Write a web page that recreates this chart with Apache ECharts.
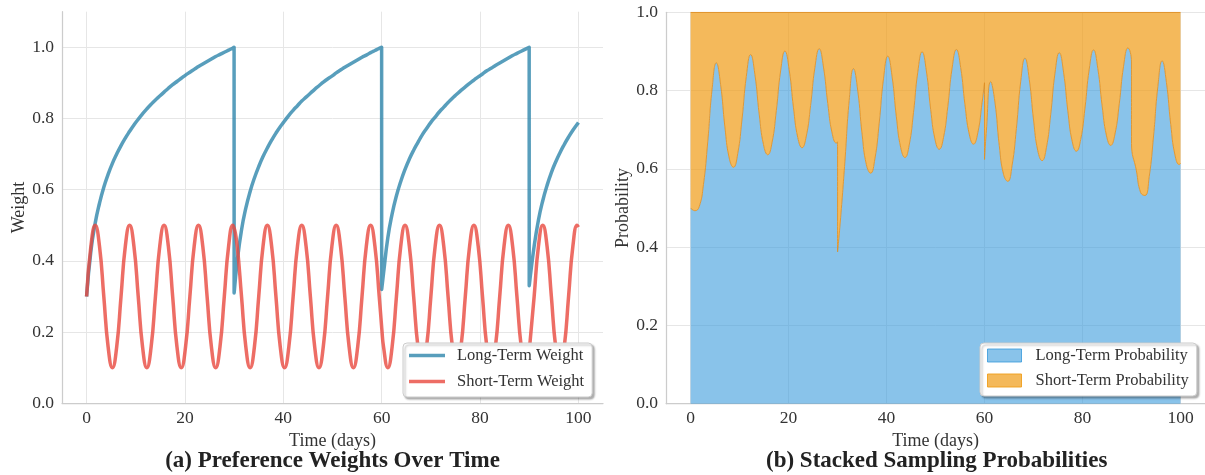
<!DOCTYPE html>
<html>
<head>
<meta charset="utf-8">
<script src="https://cdn.jsdelivr.net/npm/echarts@6/dist/echarts.min.js"></script>
<style>
html,body{margin:0;padding:0;background:#ffffff;}
#chart{width:1205px;height:475px;}
</style>
</head>
<body>
<div id="chart"></div>
<script>
// ---- data ----
const days = [
  0, 0.875, 1.75, 2.625, 3.5, 4.375, 5.25, 6.125, 7, 7.875, 8.75, 9.625, 10.5, 11.375, 12.25, 13.125,
  14, 14.875, 15.75, 16.625, 17.5, 18.375, 19.25, 20.125, 21, 21.875, 22.75, 23.625, 24.5, 25.375, 26.25,
  27.125, 28, 28.875, 29.75, 29.99, 30,
  30.625, 31.5, 32.375, 33.25, 34.125, 35, 35.875, 36.75, 37.625, 38.5, 39.375, 40.25, 41.125, 42, 42.875,
  43.75, 44.625, 45.5, 46.375, 47.25, 48.125, 49, 49.875, 50.75, 51.625, 52.5, 53.375, 54.25, 55.125, 56,
  56.875, 57.75, 58.625, 59.5, 59.99, 60,
  60.375, 61.25, 62.125, 63, 63.875, 64.75, 65.625, 66.5, 67.375, 68.25, 69.125, 70, 70.875, 71.75, 72.625,
  73.5, 74.375, 75.25, 76.125, 77, 77.875, 78.75, 79.625, 80.5, 81.375, 82.25, 83.125, 84, 84.875, 85.75,
  86.625, 87.5, 88.375, 89.25, 89.99, 90,
  91, 91.875, 92.75, 93.625, 94.5, 95.375, 96.25, 97.125, 98, 98.875, 99.75, 100
];
const longWeight = [
  0.300, 0.428, 0.506, 0.562, 0.607, 0.643, 0.674, 0.700, 0.724, 0.745, 0.764, 0.782, 0.798, 0.813, 0.827, 0.840,
  0.852, 0.863, 0.874, 0.885, 0.895, 0.904, 0.913, 0.922, 0.930, 0.938, 0.946, 0.953, 0.960, 0.967, 0.974,
  0.980, 0.986, 0.992, 0.998, 1.000, 0.310,
  0.399, 0.487, 0.548, 0.595, 0.633, 0.665, 0.693, 0.717, 0.739, 0.759, 0.777, 0.793, 0.809, 0.823, 0.836,
  0.849, 0.860, 0.871, 0.882, 0.892, 0.902, 0.911, 0.919, 0.928, 0.936, 0.944, 0.951, 0.958, 0.965, 0.972,
  0.978, 0.985, 0.991, 0.997, 1.000, 0.320,
  0.365, 0.465, 0.532, 0.583, 0.623, 0.657, 0.686, 0.711, 0.733, 0.754, 0.772, 0.789, 0.804, 0.819, 0.832,
  0.845, 0.857, 0.868, 0.879, 0.889, 0.899, 0.908, 0.917, 0.925, 0.934, 0.941, 0.949, 0.956, 0.963, 0.970,
  0.977, 0.983, 0.989, 0.995, 1.000, 0.330,
  0.441, 0.515, 0.569, 0.612, 0.648, 0.678, 0.704, 0.727, 0.748, 0.767, 0.784, 0.789
];
const shortWeight = [
  0.3, 0.441, 0.5, 0.441, 0.3, 0.159, 0.1, 0.159, 0.3, 0.441, 0.5, 0.441, 0.3, 0.159, 0.1, 0.159,
  0.3, 0.441, 0.5, 0.441, 0.3, 0.159, 0.1, 0.159, 0.3, 0.441, 0.5, 0.441, 0.3, 0.159, 0.1,
  0.159, 0.3, 0.441, 0.5, 0.495, 0.495,
  0.441, 0.3, 0.159, 0.1, 0.159, 0.3, 0.441, 0.5, 0.441, 0.3, 0.159, 0.1, 0.159, 0.3, 0.441,
  0.5, 0.441, 0.3, 0.159, 0.1, 0.159, 0.3, 0.441, 0.5, 0.441, 0.3, 0.159, 0.1, 0.159, 0.3,
  0.441, 0.5, 0.441, 0.3, 0.215, 0.213,
  0.159, 0.1, 0.159, 0.3, 0.441, 0.5, 0.441, 0.3, 0.159, 0.1, 0.159, 0.3, 0.441, 0.5, 0.441,
  0.3, 0.159, 0.1, 0.159, 0.3, 0.441, 0.5, 0.441, 0.3, 0.159, 0.1, 0.159, 0.3, 0.441, 0.5,
  0.441, 0.3, 0.159, 0.1, 0.145, 0.144,
  0.3, 0.441, 0.5, 0.441, 0.3, 0.159, 0.1, 0.159, 0.3, 0.441, 0.5, 0.495
];
const longProb = [
  0.500, 0.493, 0.503, 0.560, 0.669, 0.802, 0.871, 0.815, 0.707, 0.628, 0.604, 0.639, 0.727, 0.836, 0.892, 0.841,
  0.740, 0.662, 0.636, 0.667, 0.749, 0.850, 0.901, 0.853, 0.756, 0.680, 0.654, 0.684, 0.762, 0.859, 0.907,
  0.860, 0.767, 0.692, 0.666, 0.669, 0.388,
  0.475, 0.619, 0.775, 0.856, 0.799, 0.689, 0.611, 0.589, 0.626, 0.717, 0.830, 0.888, 0.836, 0.733, 0.655,
  0.629, 0.661, 0.744, 0.847, 0.899, 0.850, 0.752, 0.676, 0.650, 0.680, 0.759, 0.857, 0.905, 0.859, 0.764,
  0.689, 0.663, 0.692, 0.769, 0.820, 0.624,
  0.697, 0.823, 0.770, 0.660, 0.586, 0.568, 0.609, 0.703, 0.822, 0.883, 0.829, 0.725, 0.646, 0.621, 0.654,
  0.738, 0.844, 0.897, 0.847, 0.748, 0.671, 0.645, 0.675, 0.755, 0.855, 0.904, 0.856, 0.761, 0.686, 0.660,
  0.689, 0.766, 0.862, 0.909, 0.873, 0.665,
  0.595, 0.539, 0.532, 0.581, 0.684, 0.810, 0.876, 0.821, 0.714, 0.635, 0.611, 0.614
];
const shortProb = [
  0.500, 0.507, 0.497, 0.440, 0.331, 0.198, 0.129, 0.185, 0.293, 0.372, 0.396, 0.361, 0.273, 0.164, 0.108, 0.159,
  0.260, 0.338, 0.364, 0.333, 0.251, 0.150, 0.099, 0.147, 0.244, 0.320, 0.346, 0.316, 0.238, 0.141, 0.093,
  0.140, 0.233, 0.308, 0.334, 0.331, 0.612,
  0.525, 0.381, 0.225, 0.144, 0.201, 0.311, 0.389, 0.411, 0.374, 0.283, 0.170, 0.112, 0.164, 0.267, 0.345,
  0.371, 0.339, 0.256, 0.153, 0.101, 0.150, 0.248, 0.324, 0.350, 0.320, 0.241, 0.143, 0.095, 0.141, 0.236,
  0.311, 0.337, 0.308, 0.231, 0.180, 0.376,
  0.303, 0.177, 0.230, 0.340, 0.414, 0.432, 0.391, 0.297, 0.178, 0.117, 0.171, 0.275, 0.354, 0.379, 0.346,
  0.262, 0.156, 0.103, 0.153, 0.252, 0.329, 0.355, 0.325, 0.245, 0.145, 0.096, 0.144, 0.239, 0.314, 0.340,
  0.311, 0.234, 0.138, 0.091, 0.127, 0.335,
  0.405, 0.461, 0.468, 0.419, 0.316, 0.190, 0.124, 0.179, 0.286, 0.365, 0.389, 0.386
];
const panelTitles = ['(a) Preference Weights Over Time', '(b) Stacked Sampling Probabilities'];
const xAxisTitle = 'Time (days)';
const yAxisTitles = ['Weight', 'Probability'];
const weightNames = ['Long-Term Weight', 'Short-Term Weight'];
const probNames = ['Long-Term Probability', 'Short-Term Probability'];

// ---- chart ----
const FONT = '"Liberation Serif", "Times New Roman", Times, serif';
const TXT = '#333333';
const pairs = ys => days.map((d, i) => [d, ys[i]]);
// value first, day second, so that stacking acts on the value dimension
const valueDayPairs = ys => days.map((d, i) => [ys[i], d]);

function mkX(i) {
  return {
    type: 'value', gridIndex: i, min: -5, max: 105,
    name: xAxisTitle, nameLocation: 'middle', nameGap: 27,
    nameTextStyle: { fontSize: 18, color: TXT, fontFamily: FONT },
    axisLine: { show: true, onZero: false, lineStyle: { color: '#cccccc', width: 1.25 } },
    axisTick: { show: false },
    axisLabel: { fontSize: 17.5, color: TXT, fontFamily: FONT, margin: 6, showMinLabel: false, showMaxLabel: false },
    splitLine: { show: true, showMinLine: false, showMaxLine: false, lineStyle: { color: '#e6e6e6', width: 1 } }
  };
}
function mkY(i, max, title) {
  return {
    type: 'value', gridIndex: i, min: 0, max: max, interval: 0.2,
    name: title, nameLocation: 'middle', nameGap: 34, nameRotate: 90,
    nameTextStyle: { fontSize: 18, color: TXT, fontFamily: FONT },
    axisLine: { show: true, onZero: false, lineStyle: { color: '#cccccc', width: 1.25 } },
    axisTick: { show: false },
    axisLabel: { fontSize: 17.5, color: TXT, fontFamily: FONT, margin: 8, showMaxLabel: max < 1.05,
      formatter: v => v.toFixed(1) },
    splitLine: { show: true, showMinLine: false, showMaxLine: max < 1.05, lineStyle: { color: '#e6e6e6', width: 1 } }
  };
}
const legendBase = {
  orient: 'vertical', backgroundColor: '#ffffff', borderColor: '#cccccc', borderWidth: 1, borderRadius: 4,
  shadowColor: 'rgba(0,0,0,0.3)', shadowBlur: 2, shadowOffsetX: 2, shadowOffsetY: 2
};
const BLUE_LINE = 'rgba(46,134,171,0.8)';
const RED_LINE = 'rgba(232,72,62,0.8)';
const BLUE_FILL = 'rgba(52,152,219,0.58)';
const ORANGE_FILL = 'rgba(240,158,28,0.72)';
const ORANGE_EDGE = 'rgba(222,140,30,0.8)';

const option = {
  animation: false,
  backgroundColor: '#ffffff',
  textStyle: { fontFamily: FONT },
  grid: [
    { left: 62, top: 11.7, width: 541, height: 391.6 },
    { left: 666.1, top: 12.3, width: 541.2, height: 391.4 }
  ],
  xAxis: [mkX(0), mkX(1)],
  yAxis: [mkY(0, 1.1, yAxisTitles[0]), mkY(1, 1.0, yAxisTitles[1])],
  legend: [
    Object.assign({}, legendBase, {
      left: 403, top: 343, padding: [4, 8, 7, 6], itemWidth: 36, itemHeight: 3.5, itemGap: 9, icon: 'rect',
      textStyle: { fontSize: 16.5, lineHeight: 16, color: TXT, fontFamily: FONT, padding: [0, 0, 0, 7] },
      data: weightNames
    }),
    Object.assign({}, legendBase, {
      left: 980, top: 343, padding: [4, 8, 7, 7], itemWidth: 34, itemHeight: 13, itemGap: 8, icon: 'rect',
      textStyle: { fontSize: 16.5, lineHeight: 16, color: TXT, fontFamily: FONT, padding: [0, 0, 0, 9] },
      data: [
        { name: probNames[0], itemStyle: { color: BLUE_FILL, borderColor: 'rgba(52,152,219,0.8)', borderWidth: 1 } },
        { name: probNames[1], itemStyle: { color: ORANGE_FILL, borderColor: 'rgba(240,158,28,0.9)', borderWidth: 1 } }
      ]
    })
  ],
  graphic: panelTitles.map((t, i) => ({
    type: 'text', x: i === 0 ? 332.5 : 936.7, y: 461,
    style: { text: t, fontSize: 23, fontWeight: 'bold', fontFamily: FONT, fill: '#222222',
      align: 'center', verticalAlign: 'middle', textAlign: 'center', textVerticalAlign: 'middle' }
  })),
  series: [
    { name: weightNames[0], type: 'line', xAxisIndex: 0, yAxisIndex: 0, data: pairs(longWeight),
      symbol: 'none', showSymbol: false, smooth: 0.5, z: 2,
      itemStyle: { color: BLUE_LINE }, lineStyle: { width: 3.5, color: BLUE_LINE, join: 'round' } },
    { name: weightNames[1], type: 'line', xAxisIndex: 0, yAxisIndex: 0, data: pairs(shortWeight),
      symbol: 'none', showSymbol: false, smooth: 0.5, z: 3,
      itemStyle: { color: RED_LINE }, lineStyle: { width: 3.5, color: RED_LINE, join: 'round' } },
    { name: probNames[0], type: 'line', xAxisIndex: 1, yAxisIndex: 1, stack: 'prob',
      dimensions: ['prob', 'day'], encode: { x: 'day', y: 'prob' }, data: valueDayPairs(longProb),
      symbol: 'none', showSymbol: false, smooth: 0.5,
      itemStyle: { color: BLUE_FILL }, lineStyle: { width: 1, color: ORANGE_EDGE },
      areaStyle: { color: BLUE_FILL, opacity: 1 } },
    { name: probNames[1], type: 'line', xAxisIndex: 1, yAxisIndex: 1, stack: 'prob',
      dimensions: ['prob', 'day'], encode: { x: 'day', y: 'prob' }, data: valueDayPairs(shortProb),
      symbol: 'none', showSymbol: false, smooth: 0.5,
      itemStyle: { color: ORANGE_FILL }, lineStyle: { width: 1.2, color: ORANGE_EDGE },
      areaStyle: { color: ORANGE_FILL, opacity: 1 } }
  ]
};
const chart = echarts.init(document.getElementById('chart'), null, { renderer: 'canvas' });
chart.setOption(option);
</script>
</body>
</html>
